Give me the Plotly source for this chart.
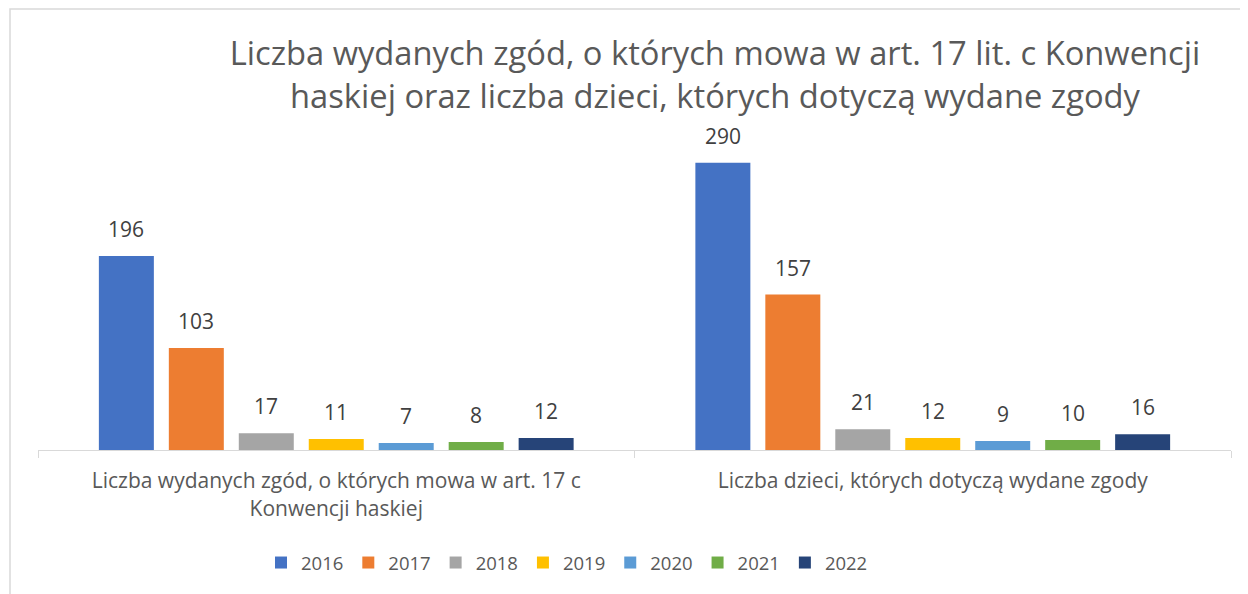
import plotly.graph_objects as go

categories = ["Liczba wydanych zgód, o których mowa w art. 17 c<br>Konwencji haskiej",
              "Liczba dzieci, których dotyczą wydane zgody"]
years = ["2016", "2017", "2018", "2019", "2020", "2021", "2022"]
values = {
    "2016": [196, 290],
    "2017": [103, 157],
    "2018": [17, 21],
    "2019": [11, 12],
    "2020": [7, 9],
    "2021": [8, 10],
    "2022": [12, 16],
}
colors = ["#4472C4", "#ED7D31", "#A5A5A5", "#FFC000", "#5B9BD5", "#70AD47", "#264478"]
title_text = ("Liczba wydanych zgód, o których mowa w art. 17 lit. c Konwencji<br>"
              "haskiej oraz liczba dzieci, których dotyczą wydane zgody")

FONT = "Open Sans"
W, H = 1240, 586
L, R, T, B = 30, 17, 132, 144
pw = W - L - R
ph = H - T - B
BARGAP = 0.179
n = len(years)
slot = (1 - BARGAP) * (pw / len(categories)) / n

fig = go.Figure()
for i, (yr, col) in enumerate(zip(years, colors)):
    fig.add_trace(go.Bar(
        name=yr, x=categories, y=values[yr], marker=dict(color=col, line=dict(width=0)),
    ))
    for c, v in zip(categories, values[yr]):
        fig.add_annotation(x=c, y=v, text=str(v), showarrow=False, yanchor="bottom",
                           xanchor="center", yshift=11, xshift=(i - (n - 1) / 2) * slot,
                           font=dict(size=21, color="#404040", family=FONT))

fig.update_layout(
    width=W, height=H,
    margin=dict(l=L, r=R, t=T, b=B),
    paper_bgcolor="white", plot_bgcolor="white",
    barmode="group", bargap=BARGAP, bargroupgap=0.214,
    font=dict(family=FONT, color="#595959"),
    title=dict(text=title_text, x=707 / W, xanchor="center", xref="container",
               y=1 - 57 / H, yanchor="top", yref="container",
               font=dict(size=32.7, color="#595959", family=FONT)),
    xaxis=dict(showline=True, linecolor="#D9D9D9", linewidth=1.3,
               ticks="outside", tickson="boundaries", ticklen=7, tickcolor="#D9D9D9",
               tickfont=dict(size=21, color="#595959", family=FONT),
               ticklabelstandoff=12, showgrid=False),
    yaxis=dict(visible=False, range=[0, 313]),
    legend=dict(orientation="h", x=(559 - L) / pw, xanchor="center",
                y=-(555 - (H - B)) / ph, yanchor="middle",
                font=dict(size=18.5, color="#595959", family=FONT), traceorder="normal"),
    showlegend=True,
)
fig.add_shape(type="rect", xref="paper", yref="paper",
              x0=(2 - L) / pw, x1=(1300 - L) / pw,
              y0=-300 / ph, y1=((H - B) - 1) / ph,
              line=dict(color="#D9D9D9", width=1.5), fillcolor="rgba(0,0,0,0)", layer="below")

fig.write_html("out.html")
